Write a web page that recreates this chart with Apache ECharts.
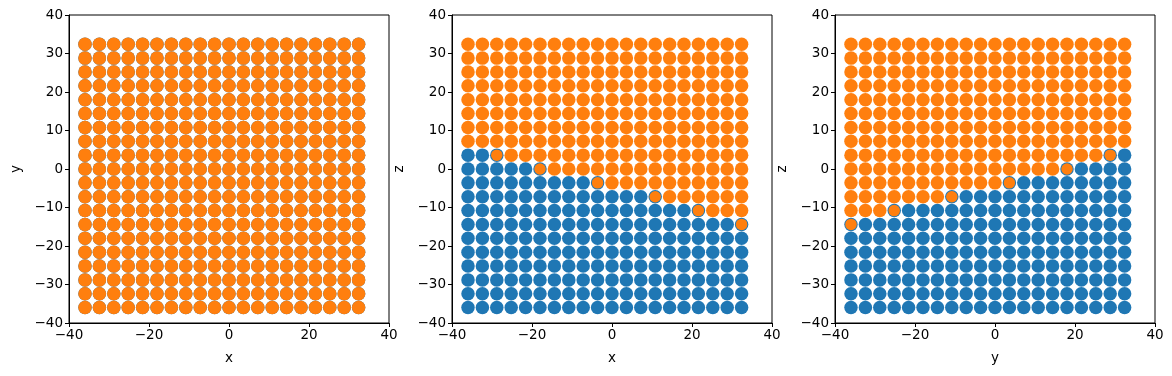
<!DOCTYPE html>
<html>
<head>
<meta charset="utf-8">
<script src="https://cdn.jsdelivr.net/npm/echarts@6/dist/echarts.min.js"></script>
<style>
  html, body { margin: 0; padding: 0; background: #fff; }
  #chart { width: 1172px; height: 376px; }
</style>
</head>
<body>
<div id="chart"></div>
<script>
// grid coordinates shared by x, y and z
const coords = [-36, -32.4, -28.8, -25.2, -21.6, -18, -14.4, -10.8, -7.2, -3.6,
  0, 3.6, 7.2, 10.8, 14.4, 18, 21.6, 25.2, 28.8, 32.4];

// x-z panel: highest z that is still blue, per x column
const blueTopXZ = [3.6, 3.6, 3.6, 0, 0, 0, -3.6, -3.6, -3.6, -3.6,
  -7.2, -7.2, -7.2, -7.2, -10.8, -10.8, -10.8, -14.4, -14.4, -14.4];
// x-z panel: cells where an orange dot sits over a blue one
const mixedXZ_x = [-28.8, -18, -3.6, 10.8, 21.6, 32.4];
const mixedXZ_z = [3.6, 0, -3.6, -7.2, -10.8, -14.4];

// y-z panel: highest z that is still blue, per y column
const blueTopYZ = [-14.4, -14.4, -14.4, -10.8, -10.8, -10.8, -10.8, -7.2, -7.2, -7.2,
  -7.2, -3.6, -3.6, -3.6, -3.6, 0, 0, 0, 3.6, 3.6];
const mixedYZ_y = [-36, -25.2, -10.8, 3.6, 18, 28.8];
const mixedYZ_z = [-14.4, -10.8, -7.2, -3.6, 0, 3.6];

const xTicks = [-40, -20, 0, 20, 40];
const yTicks = [-40, -30, -20, -10, 0, 10, 20, 30, 40];

const BLUE = "#1f77b4";
const ORANGE = "#ff7f0e";
const DOT = 13.5;
const DOT_SMALL = 11.5;

function fmt(v) {
  return String(v).replace("-", "\u2212");
}

// split each column into blue (below/at top) and orange (above)
function splitPanel(blueTop) {
  const blue = [], orange = [];
  coords.forEach((c, i) => {
    coords.forEach((z) => {
      if (z <= blueTop[i] + 1e-6) blue.push([c, z]);
      else orange.push([c, z]);
    });
  });
  return { blue, orange };
}

const allPoints = [];
coords.forEach((a) => coords.forEach((b) => allPoints.push([a, b])));

const xz = splitPanel(blueTopXZ);
const yz = splitPanel(blueTopYZ);
const xzMixed = mixedXZ_x.map((x, i) => [x, mixedXZ_z[i]]);
const yzMixed = mixedYZ_y.map((y, i) => [y, mixedYZ_z[i]]);

const lefts = [69, 452, 835];
const xNames = ["x", "x", "y"];
const yNames = ["y", "z", "z"];

const baseAxis = {
  min: -40,
  max: 40,
  axisLine: { show: true, onZero: false, lineStyle: { color: "#000", width: 1 } },
  axisTick: { show: true, inside: false, length: 4, lineStyle: { color: "#000" } },
  splitLine: { show: false },
  axisLabel: {
    color: "#000",
    fontSize: 13.5,
    fontFamily: "DejaVu Sans",
    formatter: fmt,
  },
  nameLocation: "middle",
  nameTextStyle: { color: "#000", fontSize: 13.5, fontFamily: "DejaVu Sans" },
};

const grids = lefts.map((l) => ({
  left: l,
  top: 15,
  width: 320,
  height: 308,
  show: true,
  borderColor: "#000",
  borderWidth: 1,
  backgroundColor: "transparent",
}));

const xAxes = lefts.map((l, i) => Object.assign({}, baseAxis, {
  type: "value",
  gridIndex: i,
  interval: 20,
  name: xNames[i],
  nameGap: 28,
  axisLabel: Object.assign({}, baseAxis.axisLabel, { margin: 5 }),
}));

const yAxes = lefts.map((l, i) => Object.assign({}, baseAxis, {
  type: "value",
  gridIndex: i,
  interval: 10,
  name: yNames[i],
  nameGap: 46,
  axisLabel: Object.assign({}, baseAxis.axisLabel, { margin: 6 }),
}));

function scatter(idx, data, color, size) {
  return {
    type: "scatter",
    xAxisIndex: idx,
    yAxisIndex: idx,
    data: data,
    symbolSize: size,
    itemStyle: { color: color, opacity: 1 },
    silent: true,
    animation: false,
  };
}

const series = [
  scatter(0, allPoints, BLUE, DOT),
  scatter(0, allPoints, ORANGE, DOT),
  scatter(1, xz.blue, BLUE, DOT),
  scatter(1, xz.orange, ORANGE, DOT),
  scatter(1, xzMixed, ORANGE, DOT_SMALL),
  scatter(2, yz.blue, BLUE, DOT),
  scatter(2, yz.orange, ORANGE, DOT),
  scatter(2, yzMixed, ORANGE, DOT_SMALL),
];

const myChart = echarts.init(document.getElementById("chart"), null, { renderer: "canvas" });
myChart.setOption({
  animation: false,
  backgroundColor: "#fff",
  grid: grids,
  xAxis: xAxes,
  yAxis: yAxes,
  series: series,
});
</script>
</body>
</html>
